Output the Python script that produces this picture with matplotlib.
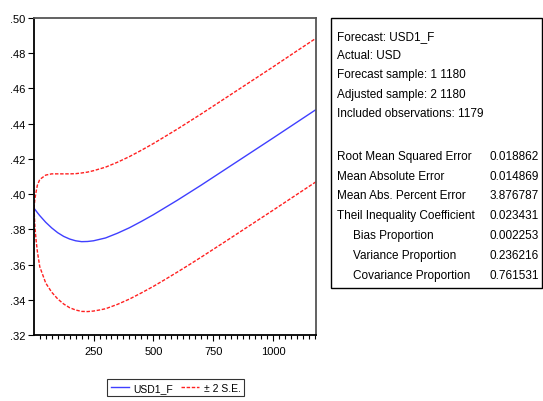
import matplotlib
matplotlib.use("Agg")
import matplotlib.pyplot as plt
from matplotlib.lines import Line2D
from matplotlib.patches import Rectangle
from matplotlib.ticker import MultipleLocator

plt.rcParams['font.family'] = ['Liberation Sans', 'DejaVu Sans']

# ---- data ----
obs = [1, 5, 10, 15, 25, 50, 75, 100, 125, 150, 175, 200, 225, 250, 275, 300,
       350, 400, 450, 500, 550, 600, 650, 700, 800, 900, 1000, 1100, 1180]
forecast = [0.3920, 0.3913, 0.3904, 0.3895, 0.3878, 0.3840, 0.3808, 0.3781, 0.3760,
            0.3745, 0.3735, 0.3730, 0.3731, 0.3735, 0.3743, 0.3751,
            0.3778, 0.3809, 0.3845, 0.3883, 0.3924, 0.3965, 0.4008, 0.4051,
            0.4140, 0.4229, 0.4318, 0.4408, 0.4480]
upper = [0.3920, 0.3975, 0.4015, 0.4050, 0.4083, 0.4108, 0.4115, 0.4115, 0.4115,
         0.4115, 0.4116, 0.4120, 0.4125, 0.4133, 0.4143, 0.4153,
         0.4181, 0.4213, 0.4249, 0.4287, 0.4328, 0.4369, 0.4412, 0.4455,
         0.4544, 0.4633, 0.4722, 0.4813, 0.4885]
lower = [0.3920, 0.3812, 0.3734, 0.3675, 0.3588, 0.3495, 0.3443, 0.3405, 0.3376,
         0.3355, 0.3342, 0.3334, 0.3333, 0.3336, 0.3342, 0.3349,
         0.3374, 0.3404, 0.3439, 0.3476, 0.3516, 0.3557, 0.3599, 0.3642,
         0.3730, 0.3819, 0.3908, 0.3998, 0.4070]

yticks = [0.32, 0.34, 0.36, 0.38, 0.40, 0.42, 0.44, 0.46, 0.48, 0.50]
ytick_labels = ['.32', '.34', '.36', '.38', '.40', '.42', '.44', '.46', '.48', '.50']
xticks = [250, 500, 750, 1000]

stats_header = ["Forecast: USD1_F", "Actual: USD", "Forecast sample: 1 1180",
                "Adjusted sample: 2 1180", "Included observations: 1179"]
stats_names = ["Root Mean Squared Error", "Mean Absolute Error", "Mean Abs. Percent Error",
               "Theil Inequality Coefficient", "Bias Proportion", "Variance Proportion",
               "Covariance Proportion"]
stats_values = ["0.018862", "0.014869", "3.876787", "0.023431", "0.002253",
                "0.236216", "0.761531"]
stats_indent = [False, False, False, False, True, True, True]

legend_labels = ["USD1_F", "\u00b1 2 S.E."]

# ---- figure ----
W, H = 543, 402
fig = plt.figure(figsize=(W / 100, H / 100), dpi=100)
fig.patch.set_facecolor('white')

def fx(px):
    return px / W

def fy(py):
    return 1 - py / H

ax = fig.add_axes([fx(34), fy(336), fx(316) - fx(34), fy(19) - fy(336)])
blue = '#3f3fff'
red = '#ff2020'
ax.plot(obs, forecast, color=blue, lw=1.0)
ax.plot(obs, upper, color=red, lw=1.0, dashes=(2.5, 1.2))
ax.plot(obs, lower, color=red, lw=1.0, dashes=(2.5, 1.2))

ax.set_xlim(1, 1180)
ax.set_ylim(0.32, 0.50)
ax.set_yticks(yticks)
ax.set_yticklabels(ytick_labels)
ax.set_xticks(xticks)
ax.set_xticklabels([str(v) for v in xticks])
ax.xaxis.set_minor_locator(MultipleLocator(25))
ax.tick_params(axis='both', which='major', direction='out', labelsize=8,
               length=4, width=0.8, colors='black', pad=2)
ax.tick_params(axis='x', which='minor', direction='out', length=3, width=0.8)
ax.tick_params(axis='x', which='major', pad=4)
ax.tick_params(top=False, right=False)
for s in ['left', 'bottom']:
    ax.spines[s].set_linewidth(1.3)
    ax.spines[s].set_color('black')
for s in ['top', 'right']:
    ax.spines[s].set_linewidth(1.3)
    ax.spines[s].set_color('#555555')

# legend
handles = [Line2D([], [], color=blue, lw=1.0),
           Line2D([], [], color=red, lw=1.0, dashes=(2.5, 1.2))]
leg = fig.legend(handles, legend_labels, loc='upper left',
                 bbox_to_anchor=(fx(107), fy(380)), ncol=2, frameon=True,
                 fancybox=False, fontsize=7.5, handlelength=1.8, handletextpad=0.4,
                 columnspacing=0.7, borderpad=0.35, borderaxespad=0)
leg.get_frame().set_edgecolor('black')
leg.get_frame().set_linewidth(0.8)

# stats box
box = Rectangle((fx(331), fy(289)), fx(542) - fx(331), fy(19) - fy(289),
                transform=fig.transFigure, facecolor='white', edgecolor='black',
                lw=1.0)
fig.patches.append(box)

fs = 8.5
header_y = [36.7, 56, 75.3, 94.6, 114]
for txt, y in zip(stats_header, header_y):
    fig.text(fx(337), fy(y), txt, fontsize=fs, va='center', ha='left')
row_y = [157.3, 176.8, 196.3, 215.8, 236.5, 256.3, 276]
for name, val, ind, y in zip(stats_names, stats_values, stats_indent, row_y):
    fig.text(fx(353 if ind else 337), fy(y), name, fontsize=fs, va='center', ha='left')
    fig.text(fx(539), fy(y), val, fontsize=fs, va='center', ha='right')

fig.savefig('out.png', dpi=100, facecolor='white')
